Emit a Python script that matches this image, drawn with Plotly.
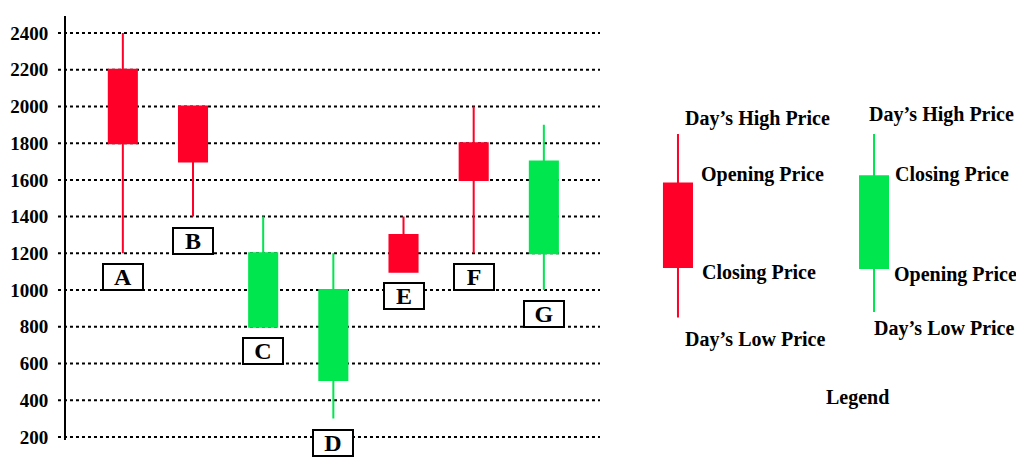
import plotly.graph_objects as go

# candles (price per day)
days = ["A", "B", "C", "D", "E", "F", "G"]
open_price = [2200, 2000, 800, 510, 1300, 1800, 1200]
high_price = [2400, 2000, 1400, 1200, 1400, 2000, 1900]
low_price = [1200, 1400, 800, 300, 1100, 1200, 1000]
close_price = [1800, 1700, 1200, 1000, 1100, 1600, 1700]

y_ticks = [200, 400, 600, 800, 1000, 1200, 1400, 1600, 1800, 2000, 2200, 2400]

# the two key candles on the right (falling day, rising day)
key_open = [1580, 1120]
key_high = [1850, 1850]
key_low = [850, 880]
key_close = [1125, 1620]

RED = "#ff0028"
GREEN = "#00e64f"
FONT = "Liberation Serif"

candle_style = dict(
    increasing=dict(line=dict(color=GREEN, width=2), fillcolor=GREEN),
    decreasing=dict(line=dict(color=RED, width=2), fillcolor=RED),
    showlegend=False,
    hoverinfo="skip",
)

fig = go.Figure()
fig.add_trace(go.Candlestick(x=days, open=open_price, high=high_price,
                             low=low_price, close=close_price, **candle_style))

# key candles, each on its own small axis so the body width matches
fig.add_trace(go.Candlestick(x=[0], open=key_open[:1], high=key_high[:1], low=key_low[:1],
                             close=key_close[:1], xaxis="x2", yaxis="y", **candle_style))
fig.add_trace(go.Candlestick(x=[0], open=key_open[1:], high=key_high[1:], low=key_low[1:],
                             close=key_close[1:], xaxis="x3", yaxis="y", **candle_style))

# dotted grid lines
for v in y_ticks:
    fig.add_shape(type="line", xref="x domain", yref="y", x0=-0.015, x1=1, y0=v, y1=v,
                  line=dict(color="black", width=2, dash="dot"), layer="below")

# boxed day letters under each candle
for d, lo in zip(days, low_price):
    fig.add_annotation(x=d, y=lo, xref="x", yref="y", text=d, showarrow=False,
                       yanchor="top", yshift=-10,
                       font=dict(family=FONT, size=24, color="black", weight="bold"),
                       bordercolor="black", borderwidth=2, borderpad=1, bgcolor="white",
                       width=36, height=22)

key_text = [
    ("Day’s High Price", "x2", 0.07, 1937),
    ("Opening Price", "x2", 0.3, 1632),
    ("Closing Price", "x2", 0.31, 1098),
    ("Day’s Low Price", "x2", 0.07, 728),
    ("Day’s High Price", "x3", -0.1, 1959),
    ("Closing Price", "x3", 0.27, 1632),
    ("Opening Price", "x3", 0.26, 1082),
    ("Day’s Low Price", "x3", -0.03, 793),
]
for txt, xr, xx, yy in key_text:
    fig.add_annotation(x=xx, y=yy, xref=xr, yref="y", text=txt, showarrow=False,
                       xanchor="left", yanchor="middle",
                       font=dict(family=FONT, size=20, color="black", weight="bold"))
fig.add_annotation(x=-0.23, y=412, xref="x3", yref="y", text="Legend", showarrow=False,
                   xanchor="center", yanchor="middle",
                   font=dict(family=FONT, size=20, color="black", weight="bold"))

hidden_x = dict(visible=False, showgrid=False, zeroline=False, rangeslider=dict(visible=False))
# page body adds 8px, so the figure is a bit smaller than the window
fig.update_layout(
    width=1016, height=455,
    margin=dict(l=58, r=0, t=8, b=23),
    paper_bgcolor="white", plot_bgcolor="white",
    boxgap=0.6, boxgroupgap=0,
    xaxis=dict(domain=[0, 0.5574], type="category", range=[-0.81, 6.8], **hidden_x),
    xaxis2=dict(domain=[0.5657, 0.7119], range=[-1, 1], anchor="y", **hidden_x),
    xaxis3=dict(domain=[0.7704, 0.9165], range=[-1, 1], anchor="y", **hidden_x),
    yaxis=dict(range=[183, 2493], tickvals=y_ticks, showgrid=False, zeroline=False,
               showline=True, linecolor="black", linewidth=2, ticks="",
               ticklabelstandoff=12,
               tickfont=dict(family=FONT, size=19, color="black", weight="bold")),
)

fig.write_html("out.html")
